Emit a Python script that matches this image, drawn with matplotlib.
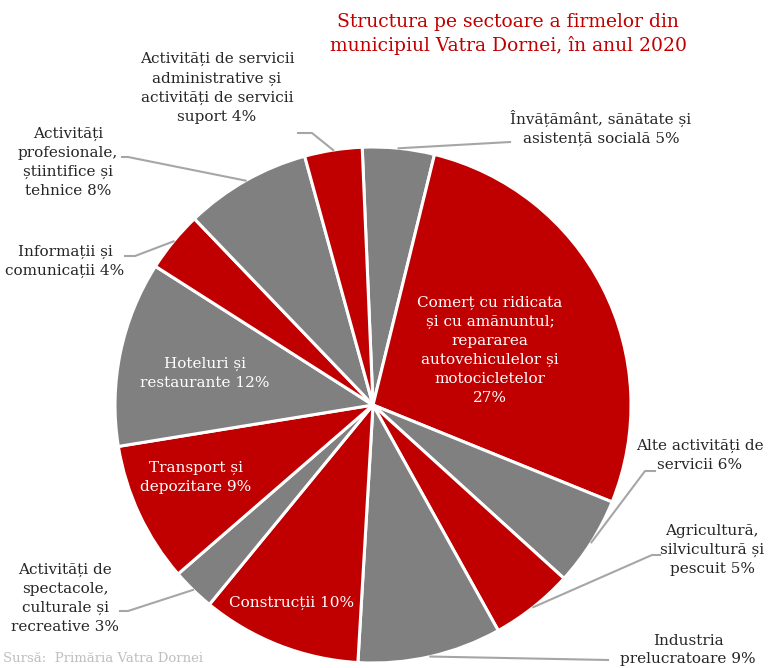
import numpy as np
import matplotlib
matplotlib.use("Agg")
import matplotlib.pyplot as plt

# sectors, clockwise from top (share of firms, %)
sectors = [
    "Învățământ, sănătate și\nasistență socială",
    "Comerț cu ridicata\nși cu amănuntul;\nrepararea\nautovehiculelor și\nmotocicletelor\n",
    "Alte activități de\nservicii",
    "Agricultură,\nsilvicultură și\npescuit",
    "Industria\nprelucratoare",
    "Construcții",
    "Activități de\nspectacole,\nculturale și\nrecreative",
    "Transport și\ndepozitare",
    "Hoteluri și\nrestaurante",
    "Informații și\ncomunicații",
    "Activități\nprofesionale,\nștiintifice și\ntehnice",
    "Activități de servicii\nadministrative și\nactivități de servicii\nsuport",
]
shares = [4.5, 27.3, 5.6, 5.2, 9.0, 10.0, 2.7, 8.8, 11.6, 3.8, 7.9, 3.6]
pct_labels = [5, 27, 6, 5, 9, 10, 3, 9, 12, 4, 8, 4]

RED = "#C00000"
GRAY = "#808080"
colors = [GRAY, RED] * 6

W, H = 768, 668
cx, cy, R = 373, H - 405, 258

plt.rcParams['font.family'] = ['DejaVu Serif']

fig = plt.figure(figsize=(W / 100, H / 100), dpi=100)
ax = fig.add_axes([0, 0, 1, 1])
wedges, _ = ax.pie(shares, colors=colors, startangle=92.4, counterclock=False,
                   center=(cx, cy), radius=R,
                   wedgeprops=dict(edgecolor="white", linewidth=2.2))
ax.set_xlim(0, W)
ax.set_ylim(0, H)
ax.set_aspect("equal")
ax.axis("off")

# label placement: (inside?, text x, text y, elbow points) in pixel coords (y down)
place = [
    (False, 601, 128, [(510, 142)]),
    (True, 490, 350, None),
    (False, 700, 455, [(645, 471), (655, 471)]),
    (False, 712, 550, [(652, 555), (660, 555)]),
    (False, 688, 650, [(608, 660)]),
    (True, 292, 603, None),
    (False, 65, 598, [(128, 611), (120, 611)]),
    (True, 196, 477, None),
    (True, 205, 373, None),
    (False, 65, 261, [(135, 256), (125, 256)]),
    (False, 68, 162, [(128, 157), (122, 157)]),
    (False, 217, 88, [(312, 133), (298, 133)]),
]

fs = 11
ls = 1.45
for w, name, p, (inside, tx, ty, elbows) in zip(wedges, sectors, pct_labels, place):
    if name.endswith("\n"):
        txt = name + f"{p}%"
    else:
        txt = name + f" {p}%"
    if inside:
        ax.text(tx, H - ty, txt, ha="center", va="center", color="white",
                fontsize=fs, linespacing=ls)
    else:
        ax.text(tx, H - ty, txt, ha="center", va="center", color="#262626",
                fontsize=fs, linespacing=ls)
        mid = np.deg2rad((w.theta1 + w.theta2) / 2)
        xs = [cx + R * np.cos(mid)] + [e[0] for e in elbows]
        ys = [cy + R * np.sin(mid)] + [H - e[1] for e in elbows]
        ax.plot(xs, ys, color="#A6A6A6", lw=1.5)

ax.text(508, H - 34, "Structura pe sectoare a firmelor din\nmunicipiul Vatra Dornei, în anul 2020",
        ha="center", va="center", color=RED, fontsize=13.5, linespacing=1.35)
ax.text(3, H - 659, "Sursă:  Primăria Vatra Dornei", ha="left", va="center",
        color="#BFBFBF", fontsize=9.5)

fig.savefig("out.png", dpi=100)
